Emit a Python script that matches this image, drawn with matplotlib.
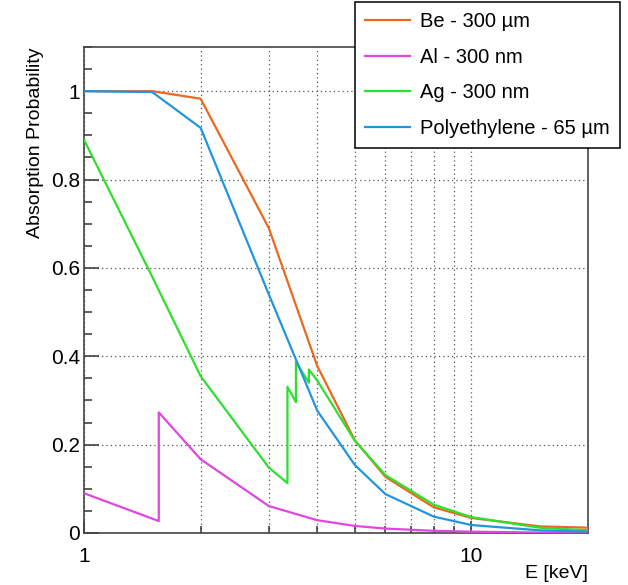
import matplotlib
matplotlib.use("Agg")
import matplotlib.pyplot as plt
from matplotlib.ticker import FixedLocator, NullFormatter

# Data (energy in keV, absorption probability)
#*******************************
be_energy = [1, 1.5, 2, 3, 4, 5, 6, 8, 10, 15, 20]
be_prob = [1.0, 1.0, 0.983, 0.69, 0.378, 0.21, 0.127, 0.058, 0.034, 0.015, 0.012]

al_energy = [1, 1.5596, 1.5596, 2, 3, 4, 5, 6, 8, 10, 15, 20]
al_prob = [0.09, 0.027, 0.273, 0.167, 0.061, 0.029, 0.016, 0.010, 0.005, 0.003, 0.001, 0.0005]

ag_energy = [1, 1.5, 2, 3, 3.351, 3.351, 3.524, 3.524, 3.806, 3.806, 4, 5, 6, 8, 10, 15, 20]
ag_prob = [0.89, 0.58, 0.355, 0.148, 0.113, 0.331, 0.296, 0.388, 0.34, 0.370, 0.345,
           0.209, 0.131, 0.064, 0.036, 0.012, 0.006]

pe_energy = [1, 1.5, 2, 3, 4, 5, 6, 8, 10, 15, 20]
pe_prob = [1.0, 0.998, 0.917, 0.54, 0.277, 0.154, 0.088, 0.037, 0.018, 0.006, 0.003]

series = [
    ("Be - 300 \u00b5m", be_energy, be_prob, "#e8691f"),
    ("Al - 300 nm", al_energy, al_prob, "#e046e0"),
    ("Ag - 300 nm", ag_energy, ag_prob, "#2ee02e"),
    ("Polyethylene - 65 \u00b5m", pe_energy, pe_prob, "#2196e0"),
]

plt.rcParams["font.family"] = ["Liberation Sans", "DejaVu Sans"]

fig = plt.figure(figsize=(6.28, 5.85), dpi=100)
ax = fig.add_axes([84 / 628, 1 - 533 / 585, 504 / 628, 486 / 585])

for label, x, y, color in series:
    ax.plot(x, y, color=color, lw=1.6, label=label, zorder=3)

ax.set_xscale("log")
ax.set_xlim(1, 20)
ax.set_ylim(0, 1.1)

# ticks, ROOT style (inside, left/bottom only)
ax.xaxis.set_major_locator(FixedLocator([1, 10]))
ax.xaxis.set_minor_locator(FixedLocator([2, 3, 4, 5, 6, 7, 8, 9]))
ax.xaxis.set_minor_formatter(NullFormatter())
ax.set_xticklabels(["1", "10"])
ax.set_yticks([0, 0.2, 0.4, 0.6, 0.8, 1.0])
ax.set_yticklabels(["0", "0.2", "0.4", "0.6", "0.8", "1"])
ax.yaxis.set_minor_locator(FixedLocator([i * 0.05 for i in range(23)]))

ax.tick_params(axis="both", which="both", direction="in", colors="#333333",
               labelcolor="black", labelsize=15, width=1.1)
ax.tick_params(axis="y", which="major", length=11, pad=3)
ax.tick_params(axis="y", which="minor", length=6)
ax.tick_params(axis="x", which="major", length=9, pad=10)
ax.tick_params(axis="x", which="minor", length=5)

for sp in ax.spines.values():
    sp.set_color("#444444")
    sp.set_linewidth(1.2)

ax.grid(True, which="both", axis="x", color="#555555", lw=0.9, linestyle=(0, (1, 2.5)))
ax.grid(True, which="major", axis="y", color="#555555", lw=0.9, linestyle=(0, (1, 2.5)))
ax.set_axisbelow(True)

ax.text(-0.113, 1.0, "Absorption Probability", rotation=90, ha="left", va="top",
        fontsize=14, transform=ax.transAxes)
ax.text(1.0, -0.066, "E [keV]", ha="right", va="top", fontsize=14, transform=ax.transAxes)

leg = fig.legend(loc="upper right", bbox_to_anchor=(620 / 628, 1 - 2 / 585),
                 fontsize=14.5, frameon=True, fancybox=False, framealpha=1,
                 edgecolor="black", handlelength=2.25, handletextpad=0.5,
                 labelspacing=0.82, borderpad=0.5, borderaxespad=0)
leg.get_frame().set_linewidth(1.1)
for line in leg.get_lines():
    line.set_linewidth(1.6)

plt.savefig("out.png", dpi=100)
plt.close()
